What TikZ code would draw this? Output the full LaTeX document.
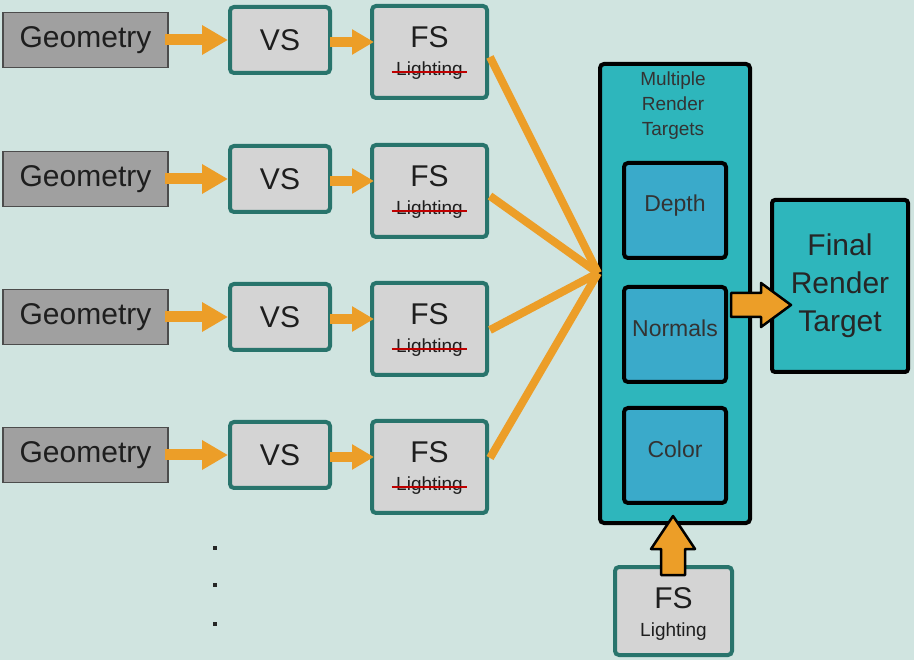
\documentclass[tikz,border=0pt]{standalone}
\usepackage{fontspec}
\setmainfont{Liberation Sans}
\usetikzlibrary{arrows.meta,calc}
\definecolor{bg}{RGB}{208,228,224}
\definecolor{geo}{RGB}{160,160,160}
\definecolor{light}{RGB}{212,212,212}
\definecolor{tealb}{RGB}{40,116,108}
\definecolor{mrt}{RGB}{46,182,188}
\definecolor{inner}{RGB}{58,170,202}
\definecolor{org}{RGB}{236,158,40}
\definecolor{txt}{RGB}{30,30,30}
\tikzset{
  geobox/.style={draw=black!70, line width=1.5pt, fill=geo, minimum width=165pt, minimum height=55pt, inner sep=0pt, font=\fontsize{30}{32}\selectfont, text=txt},
  vsbox/.style={draw=tealb, line width=4pt, rounded corners=4pt, fill=light, minimum width=100pt, minimum height=66pt, inner sep=0pt, font=\fontsize{30}{32}\selectfont, text=txt},
  fsbox/.style={draw=tealb, line width=4pt, rounded corners=4pt, fill=light, minimum width=115pt, minimum height=92pt, inner sep=0pt},
  mrtbox/.style={draw=black, line width=4pt, rounded corners=4pt, fill=mrt},
  rtbox/.style={draw=black, line width=4pt, rounded corners=4pt, fill=inner, minimum width=102pt, minimum height=95pt, inner sep=0pt},
  rtlabel/.style={font=\fontsize{23}{25}\selectfont, text=black!80},
  flow/.style={draw=org, line width=11pt, -{Triangle[length=26pt,width=28pt]}},
  feed/.style={draw=org, line width=8pt},
  block/.style={fill=org, draw=black, line width=2.5pt, line join=round},
  strike/.style={draw=red!75!black, line width=1.5pt},
  lighting/.style={font=\fontsize{19}{21}\selectfont, text=txt},
}
\begin{document}
\begin{tikzpicture}[x=1pt,y=-1pt]
\fill[bg] (0,0) rectangle (914,660);
\useasboundingbox (0,0) rectangle (914,660);

% MRT container and targets
\node[mrtbox, minimum width=150pt, minimum height=459pt, inner sep=0pt] (mrt) at (675,293.5) {};
\node[font=\fontsize{19}{25}\selectfont, align=center, text=black!80, anchor=north] (mrtlab) at (673,68) {Multiple\\Render\\Targets};
\node[rtbox] (depth) at (675,210.5) {};
\node[rtbox] (normals) at (675,334.5) {};
\node[rtbox] (color) at (675,455.5) {};
\node[rtlabel] (depthl) at ($(depth)+(0,-5)$) {Depth};
\node[rtlabel] (normalsl) at ($(normals)+(0,-6)$) {Normals};
\node[rtlabel] (colorl) at ($(color)+(0,-6)$) {Color};

\node[draw=black, line width=4pt, rounded corners=3pt, fill=mrt, minimum width=136pt, minimum height=172pt, inner sep=0pt, align=center, font=\fontsize{30}{38}\selectfont, text=black!85] (final) at (840,286) {Final\\Render\\Target};

% rows
\foreach \i/\y/\o in {1/40/5,2/179/5,3/317/1,4/455/-9}{
  \node[geobox] (geo\i) at (85.5,\y) {Geometry};
  \node[vsbox] (vs\i) at (280,\y) {VS};
  \node[fsbox] (fs\i) at (429.5,\y+12) {};
  \node[font=\fontsize{30}{32}\selectfont, text=txt] (fst\i) at (429.5,\y-3) {FS};
  \node[lighting] (fsl\i) at (429.5,\y+31) {Lighting};
  \draw[strike] ($(fsl\i.west)+(-1,1)$) -- ($(fsl\i.east)+(1,1)$);
  \draw[flow] ($(geo\i.east)+(-4,0)$) -- (vs\i.west);
  \draw[flow, line width=10pt, -{Triangle[length=22pt,width=24pt]}] ($(vs\i.east)+(-2,2)$) -- ($(fs\i.west)+(4,-10)$);
  \coordinate (s\i) at ($(fs\i.east)+(1,\o)$);
}
\coordinate (conv) at (598,273);
\foreach \i in {1,...,4}{
  \draw[feed, line cap=butt] (s\i) -- (conv);
}

% bottom FS lighting
\node[fsbox, minimum width=117pt, minimum height=88pt] (fsb) at (673.5,611) {};
\node[font=\fontsize{30}{32}\selectfont, text=txt] (fsbt) at (673.5,598) {FS};
\node[lighting] (fsbl) at (673.5,632) {Lighting};

% block arrow right: normals -> final
\coordinate (T) at ($(final.west)+(21,19)$);
\draw[block] ($(T)+(-60,-12)$) -- ($(T)+(-30,-12)$) -- ($(T)+(-30,-22)$) -- (T)
  -- ($(T)+(-30,22)$) -- ($(T)+(-30,12)$) -- ($(T)+(-60,12)$) -- cycle;
% block arrow up: fsb -> mrt
\coordinate (U) at ($(mrt.south)+(-2,-9)$);
\draw[block] ($(U)+(-12,59)$) -- ($(U)+(-12,33)$) -- ($(U)+(-22,33)$) -- (U)
  -- ($(U)+(22,33)$) -- ($(U)+(12,33)$) -- ($(U)+(12,59)$) -- cycle;

% dots
\foreach \y/\n in {548/d1,585/d2,624/d3}{
  \node[rectangle, fill=black!85, inner sep=0pt, minimum size=3.5pt] (\n) at (215,\y) {};
}
\end{tikzpicture}
\end{document}
